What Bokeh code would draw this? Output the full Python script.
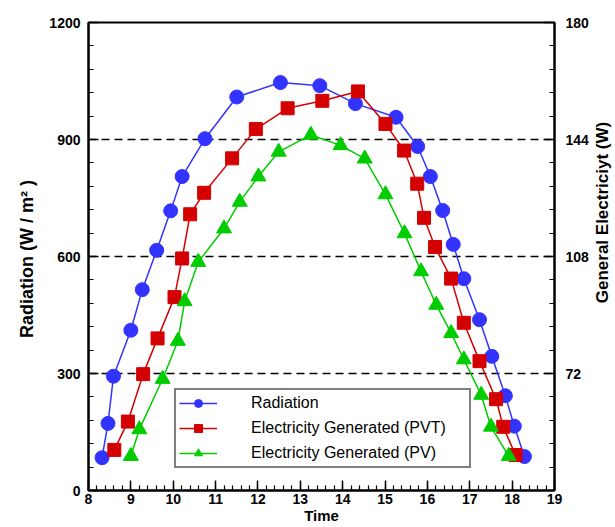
import numpy as np
from bokeh.plotting import figure
from bokeh.layouts import row
from bokeh.models import LinearAxis, Range1d, FixedTicker, Legend, LegendItem
from bokeh.core.properties import value
from bokeh.embed import file_html
from bokeh.resources import INLINE

# Solar radiation over the day (W/m2)
rad_time = [8.32, 8.46, 8.59, 9.00, 9.27, 9.61, 9.94, 10.21, 10.75, 11.50, 12.53, 13.46,
            14.30, 15.26, 15.77, 16.07, 16.36, 16.61, 16.86, 17.23, 17.52, 17.84, 18.05, 18.29]
rad_value = [84, 172, 293, 411, 515, 616, 717, 805, 902, 1009, 1046, 1038,
             992, 957, 882, 805, 718, 631, 543, 438, 344, 243, 165, 87]

# Electricity generated by the PVT collector (W)
pvt_time = [8.61, 8.93, 9.29, 9.63, 10.03, 10.21, 10.40, 10.73, 11.39, 11.95, 12.70, 13.52,
            14.36, 15.01, 15.45, 15.76, 15.92, 16.18, 16.56, 16.86, 17.23, 17.62, 17.79, 18.08]
pvt_watt = [48.5, 57.2, 71.8, 82.8, 95.5, 107.4, 121.0, 127.6, 138.2, 147.2, 153.6, 155.9,
            158.8, 148.8, 140.6, 130.4, 119.9, 110.9, 101.2, 87.6, 75.8, 64.1, 55.6, 46.9]

# Electricity generated by the plain PV panel (W)
pv_time = [9.00, 9.20, 9.75, 10.11, 10.27, 10.59, 11.20, 11.57, 12.01, 12.49, 13.25,
           13.95, 14.52, 15.01, 15.46, 15.85, 16.21, 16.56, 16.86, 17.27, 17.50, 17.92]
pv_watt = [46.6, 54.8, 70.3, 82.0, 94.2, 106.3, 116.6, 124.8, 132.6, 140.2, 145.4,
           142.2, 138.1, 127.1, 115.1, 103.4, 93.1, 84.4, 76.3, 65.4, 55.6, 46.6]

x_ticks = list(range(8, 20))
left_ticks = [0, 300, 600, 900, 1200]
right_ticks = [72, 108, 144, 180]
grid_levels = [300, 600, 900]
right_title_text = "General Electriciyt (W)"

FONT = "Liberation Sans"
BLUE, RED, GREEN = "#3333ff", "#d40000", "#00cc00"
SIDE_W = 24

p = figure(width=615 - SIDE_W, height=527, x_range=Range1d(8, 19), y_range=Range1d(0, 1200),
           output_backend="svg", toolbar_location=None,
           min_border_left=88, min_border_right=61 - SIDE_W, min_border_top=22,
           min_border_bottom=37)
p.extra_y_ranges = {"elec": Range1d(36, 180)}

p.outline_line_color = "black"
p.outline_line_width = 2
p.outline_line_alpha = 1.0
p.background_fill_color = "white"
p.border_fill_color = "white"

p.xgrid.visible = False
p.ygrid.ticker = FixedTicker(ticks=grid_levels)
p.ygrid.grid_line_color = "black"
p.ygrid.grid_line_width = 1.6
p.ygrid.grid_line_dash = "8 5"

p.xaxis.ticker = FixedTicker(ticks=x_ticks,
                             minor_ticks=[round(8 + 0.2 * i, 2) for i in range(56)])
p.yaxis.ticker = FixedTicker(ticks=left_ticks, minor_ticks=list(range(0, 1201, 60)))

right = LinearAxis(y_range_name="elec",
                   ticker=FixedTicker(ticks=right_ticks,
                                      minor_ticks=[round(36 + 7.2 * i, 1) for i in range(21)]))
p.add_layout(right, "right")


def style_axis(ax, standoff, title, title_size, title_standoff):
    ax.axis_line_color = "black"
    ax.axis_line_width = 2
    ax.major_tick_in = 10
    ax.major_tick_out = 0
    ax.minor_tick_in = 5
    ax.minor_tick_out = 0
    ax.major_tick_line_width = 1.5
    ax.minor_tick_line_width = 1.2
    ax.major_tick_line_color = "black"
    ax.minor_tick_line_color = "black"
    ax.major_label_text_font = FONT
    ax.major_label_text_font_style = "bold"
    ax.major_label_text_font_size = "14px"
    ax.major_label_text_color = "black"
    ax.major_label_standoff = standoff
    ax.axis_label = title
    ax.axis_label_text_font = FONT
    ax.axis_label_text_font_style = "bold"
    ax.axis_label_text_font_size = title_size
    ax.axis_label_text_color = "black"
    ax.axis_label_standoff = title_standoff


style_axis(p.xaxis[0], 3, "Time", "15px", 0)
style_axis(p.yaxis[0], 8, "Radiation  (W / m² )", "18px", 9)
style_axis(right, 11, None, "17px", 0)

# Radiation on the left axis
r_line = p.line(rad_time, rad_value, line_color=BLUE, line_width=1.5)
r_mark = p.scatter(rad_time, rad_value, marker="circle", size=14,
                   fill_color=BLUE, line_color=BLUE)

# Electricity on the right axis
pvt_line = p.line(pvt_time, pvt_watt, line_color=RED, line_width=1.5, y_range_name="elec")
pvt_mark = p.scatter(pvt_time, pvt_watt, marker="square", size=13,
                     fill_color=RED, line_color=RED, y_range_name="elec")

pv_line = p.line(pv_time, pv_watt, line_color=GREEN, line_width=1.5, y_range_name="elec")
pv_mark = p.scatter(pv_time, pv_watt, marker="triangle", size=15,
                    fill_color=GREEN, line_color=GREEN, y_range_name="elec")

legend = Legend(items=[
    LegendItem(label="Radiation", renderers=[r_line, r_mark]),
    LegendItem(label="Electricity Generated (PVT)", renderers=[pvt_line, pvt_mark]),
    LegendItem(label="Electricity Generated (PV)", renderers=[pv_line, pv_mark]),
], location=(86, 22))
legend.margin = 0
legend.padding = 3
legend.spacing = 5
legend.glyph_width = 38
legend.glyph_height = 20
legend.label_height = 20
legend.label_width = 215
legend.label_standoff = 34
legend.label_text_font = FONT
legend.label_text_font_size = "16px"
legend.label_text_color = "black"
legend.border_line_color = "black"
legend.border_line_width = 2
legend.background_fill_color = "white"
legend.background_fill_alpha = 1.0
p.add_layout(legend, "center")

# Narrow strip on the right holding the right-hand axis title, read bottom to top
side = figure(width=SIDE_W, height=527, x_range=Range1d(0, SIDE_W), y_range=Range1d(527, 0),
              output_backend="svg", toolbar_location=None,
              x_axis_location=None, y_axis_location=None, min_border=0)
side.grid.visible = False
side.outline_line_color = None
side.background_fill_color = "white"
side.border_fill_color = "white"
side.text(x=[11], y=[214], text=[right_title_text], angle=np.pi / 2,
          text_align="center", text_baseline="middle",
          text_font=value(FONT), text_font_style="bold", text_font_size="17px",
          text_color="black")

layout = row(p, side, spacing=0)
open("out.html", "w").write(file_html(layout, INLINE))
